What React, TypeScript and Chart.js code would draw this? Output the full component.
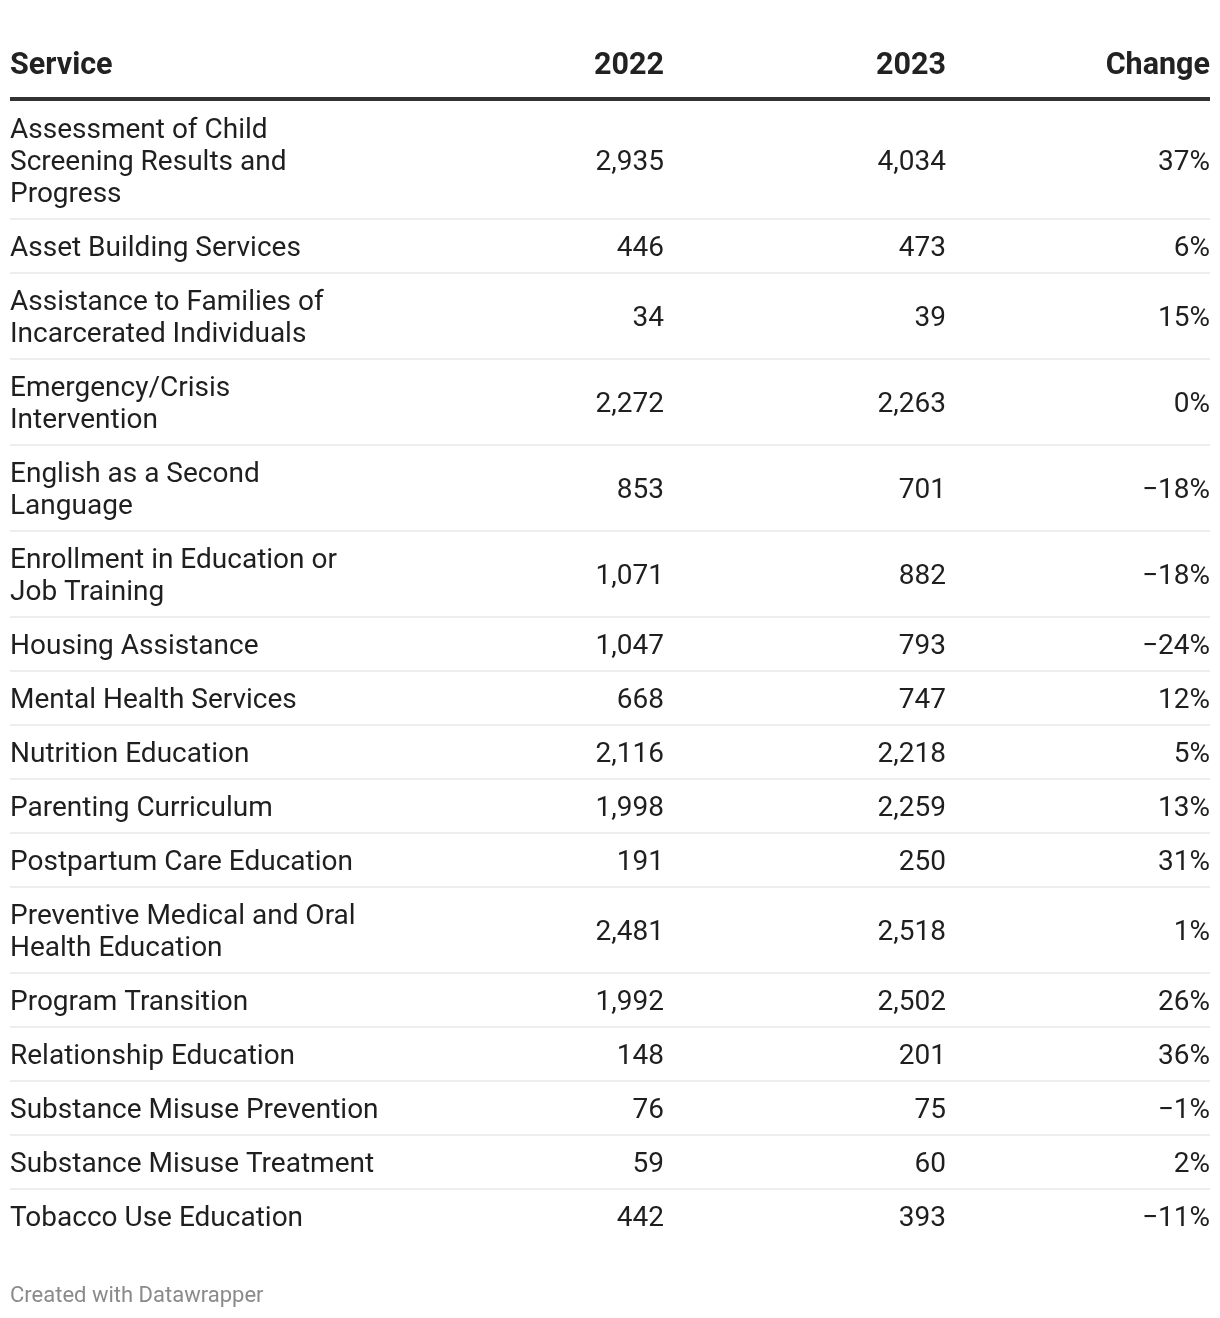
import React, { useEffect, useRef } from "react";
import { Chart, registerables } from "chart.js";

Chart.register(...registerables);

const headers = ["Service", "2022", "2023", "Change"];
const services = [
  "Assessment of Child\nScreening Results and\nProgress",
  "Asset Building Services",
  "Assistance to Families of\nIncarcerated Individuals",
  "Emergency/Crisis\nIntervention",
  "English as a Second\nLanguage",
  "Enrollment in Education or\nJob Training",
  "Housing Assistance",
  "Mental Health Services",
  "Nutrition Education",
  "Parenting Curriculum",
  "Postpartum Care Education",
  "Preventive Medical and Oral\nHealth Education",
  "Program Transition",
  "Relationship Education",
  "Substance Misuse Prevention",
  "Substance Misuse Treatment",
  "Tobacco Use Education",
];
const values2022 = [2935, 446, 34, 2272, 853, 1071, 1047, 668, 2116, 1998, 191, 2481, 1992, 148, 76, 59, 442];
const values2023 = [4034, 473, 39, 2263, 701, 882, 793, 747, 2218, 2259, 250, 2518, 2502, 201, 75, 60, 393];
const changePct = [37, 6, 15, 0, -18, -18, -24, 12, 5, 13, 31, 1, 26, 36, -1, 2, -11];
const footer = "Created with Datawrapper";

const W = 1220;
const H = 1318;

const fmtNum = (v: number) => v.toLocaleString("en-US");
const fmtPct = (v: number) => (v < 0 ? "\u2212" + Math.abs(v) : String(v)) + "%";

const tablePlugin = {
  id: "tablePlugin",
  afterDraw(chart: any) {
    const ctx = chart.ctx as CanvasRenderingContext2D;
    const xs = chart.scales.x;
    const ys = chart.scales.y;
    const X = (v: number) => xs.getPixelForValue(v);
    const Y = (v: number) => ys.getPixelForValue(v);

    const left = 10;
    const right = 1210;
    const colRight = [664, 946, 1210];
    const bodySize = 28;
    const bodyFont = `400 ${bodySize}px Roboto`;
    const headFont = "700 30.5px Roboto";
    const capBody = 0.711 * bodySize;
    const lineH = 32;
    const rowPad = 22;

    ctx.save();
    // header
    ctx.font = headFont;
    ctx.fillStyle = "#222222";
    ctx.textBaseline = "alphabetic";
    const headBase = 74;
    ctx.textAlign = "left";
    ctx.fillText(headers[0], X(left), Y(headBase));
    ctx.textAlign = "right";
    for (let c = 1; c < 4; c++) ctx.fillText(headers[c], X(colRight[c - 1]), Y(headBase));

    // header rule
    ctx.fillStyle = "#333333";
    ctx.fillRect(X(left), Y(97), X(right) - X(left), Y(101) - Y(97));

    // rows
    let top = 101;
    ctx.font = bodyFont;
    services.forEach((s, i) => {
      const lines = s.split("\n");
      const h = rowPad + lineH * lines.length;
      const center = top + h / 2;
      ctx.fillStyle = "#1f1f1f";
      ctx.textAlign = "left";
      lines.forEach((ln, k) => {
        const cy = center + (k - (lines.length - 1) / 2) * lineH;
        ctx.fillText(ln, X(left), Y(cy + capBody / 2));
      });
      ctx.textAlign = "right";
      const base = Y(center + capBody / 2);
      ctx.fillText(fmtNum(values2022[i]), X(colRight[0]), base);
      ctx.fillText(fmtNum(values2023[i]), X(colRight[1]), base);
      ctx.fillText(fmtPct(changePct[i]), X(colRight[2]), base);
      top += h;
      if (i < services.length - 1) {
        ctx.fillStyle = "#eeeeee";
        ctx.fillRect(X(left), Y(top - 1), X(right) - X(left), 2);
      }
    });

    // footer
    ctx.font = "400 22px Roboto";
    ctx.fillStyle = "#8a8a8a";
    ctx.textAlign = "left";
    ctx.fillText(footer, X(left), Y(1302));
    ctx.restore();
  },
};

export default function App() {
  const ref = useRef<HTMLCanvasElement | null>(null);
  useEffect(() => {
    if (!ref.current) return;
    const chart = new Chart(ref.current, {
      type: "scatter",
      data: { datasets: [{ data: [] }] },
      options: {
        animation: false,
        responsive: false,
        devicePixelRatio: 1,
        layout: { padding: 0 },
        plugins: { legend: { display: false }, tooltip: { enabled: false } },
        scales: {
          x: { type: "linear", min: 0, max: W, display: false },
          y: { type: "linear", min: 0, max: H, reverse: true, display: false },
        },
      },
      plugins: [tablePlugin],
    } as any);
    return () => chart.destroy();
  }, []);
  return (
    <div style={{ position: "absolute", left: 0, top: 0, width: W, height: H, background: "#ffffff" }}>
      <canvas ref={ref} width={W} height={H} style={{ width: W, height: H, display: "block" }} />
    </div>
  );
}
